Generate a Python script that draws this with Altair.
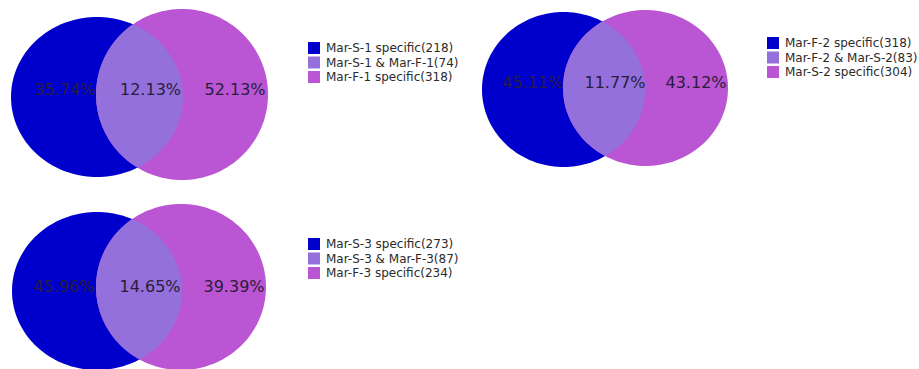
import math

import altair as alt
import pandas as pd

# ---------------------------------------------------------------------------
# Data: two-set overlaps for three Mar sample pairs
# ---------------------------------------------------------------------------
set_names_1 = ["Mar-S-1", "Mar-F-1"]
set_names_2 = ["Mar-F-2", "Mar-S-2"]
set_names_3 = ["Mar-S-3", "Mar-F-3"]

# counts: [first-only, shared, second-only]
counts_1 = [218, 74, 318]
counts_2 = [318, 83, 304]
counts_3 = [273, 87, 234]

# percentages shown inside the regions
percent_1 = [35.74, 12.13, 52.13]
percent_2 = [45.11, 11.77, 43.12]
percent_3 = [45.96, 14.65, 39.39]

region_colors = ["#0000cc", "#9370db", "#ba55d3"]

# ---------------------------------------------------------------------------
# Layout (pixels on a 919 x 369 canvas)
# ellipse = (cx, cy, rx, ry); labels_x = centres of the three region labels
# ---------------------------------------------------------------------------
W, H = 919, 369
layouts = [
    dict(left=(97, 97, 86, 80), right=(182, 94.5, 86, 85.5),
         labels_x=[65, 150.5, 235], labels_y=90, legend_xy=(308, 42)),
    dict(left=(563.5, 89.5, 81.5, 77.5), right=(645.5, 88, 82.5, 78),
         labels_x=[533, 615, 696], labels_y=83, legend_xy=(767, 37)),
    dict(left=(97, 291, 85, 79), right=(181, 287, 85, 83),
         labels_x=[64, 150, 234], labels_y=287, legend_xy=(308, 238)),
]

UNIT = 100.0  # pixels per unit of the custom symbol paths


def ellipse_path(rx, ry, n=160):
    pts = []
    for i in range(n):
        t = 2 * math.pi * i / n
        pts.append((rx * math.cos(t) / UNIT, ry * math.sin(t) / UNIT))
    return "M" + "L".join(f"{x:.4f},{y:.4f}" for x, y in pts) + "Z"


def ray_exit(e, px, py, dx, dy):
    cx, cy, rx, ry = e
    u, v = (px - cx) / rx, (py - cy) / ry
    du, dv = dx / rx, dy / ry
    a = du * du + dv * dv
    b = 2 * (u * du + v * dv)
    c = u * u + v * v - 1
    return (-b + math.sqrt(b * b - 4 * a * c)) / (2 * a)


def lens_path(e1, e2, n=360):
    # reference point inside both ellipses
    px = ((e2[0] - e2[2]) + (e1[0] + e1[2])) / 2
    py = (e1[1] + e2[1]) / 2
    pts = []
    for i in range(n):
        t = 2 * math.pi * i / n
        dx, dy = math.cos(t), math.sin(t)
        r = min(ray_exit(e1, px, py, dx, dy), ray_exit(e2, px, py, dx, dy))
        pts.append((r * dx / UNIT, r * dy / UNIT))
    return px, py, "M" + "L".join(f"{x:.4f},{y:.4f}" for x, y in pts) + "Z"


xs = alt.Scale(domain=[0, W], range=[0, W], nice=False, zero=False)
ys = alt.Scale(domain=[0, H], range=[0, H], nice=False, zero=False)

panels = []
for names, counts, pcts, lay in zip(
    [set_names_1, set_names_2, set_names_3],
    [counts_1, counts_2, counts_3],
    [percent_1, percent_2, percent_3],
    layouts,
):
    a, b = names
    legend_labels = [
        f"{a} specific({counts[0]})",
        f"{a} & {b}({counts[1]})",
        f"{b} specific({counts[2]})",
    ]
    left, right = lay["left"], lay["right"]
    lx, ly, lpath = lens_path(left, right)
    shapes_df = pd.DataFrame({
        "x": [left[0], right[0], lx],
        "y": [left[1], right[1], ly],
        "path": [ellipse_path(left[2], left[3]), ellipse_path(right[2], right[3]), lpath],
        "region": [legend_labels[0], legend_labels[2], legend_labels[1]],
        "z": [0, 1, 2],
    })
    text_df = pd.DataFrame({
        "x": lay["labels_x"],
        "y": [lay["labels_y"]] * 3,
        "text": [f"{p:.2f}%" for p in pcts],
    })

    shapes = alt.Chart(shapes_df).mark_point(
        filled=True, opacity=1, size=4 * UNIT * UNIT, strokeWidth=0
    ).encode(
        x=alt.X("x:Q", scale=xs, axis=None),
        y=alt.Y("y:Q", scale=ys, axis=None),
        shape=alt.Shape("path:N", scale=None),
        color=alt.Color(
            "region:N",
            scale=alt.Scale(domain=legend_labels, range=region_colors),
            legend=alt.Legend(
                title=None,
                orient="none",
                legendX=lay["legend_xy"][0],
                legendY=lay["legend_xy"][1],
            ),
        ),
        order=alt.Order("z:Q"),
    )

    labels = alt.Chart(text_df).mark_text(
        font="DejaVu Sans", fontSize=16, color="#2a1c3c",
        align="center", baseline="middle",
    ).encode(
        x=alt.X("x:Q", scale=xs, axis=None),
        y=alt.Y("y:Q", scale=ys, axis=None),
        text="text:N",
    )
    panels.append(alt.layer(shapes, labels))

chart = (
    alt.layer(*panels)
    .resolve_scale(color="independent")
    .properties(width=W, height=H, padding=0, autosize="none", background="white")
    .configure_view(stroke=None)
    .configure_legend(
        padding=0,
        symbolType="square",
        symbolSize=144,
        symbolStrokeWidth=0,
        symbolOpacity=1,
        labelFont="DejaVu Sans",
        labelFontSize=12,
        labelColor="#2b2b2b",
        labelOffset=6,
        rowPadding=2.5,
        labelLimit=300,
    )
)

chart.save("out.html", embed_options={"renderer": "svg", "actions": False})
